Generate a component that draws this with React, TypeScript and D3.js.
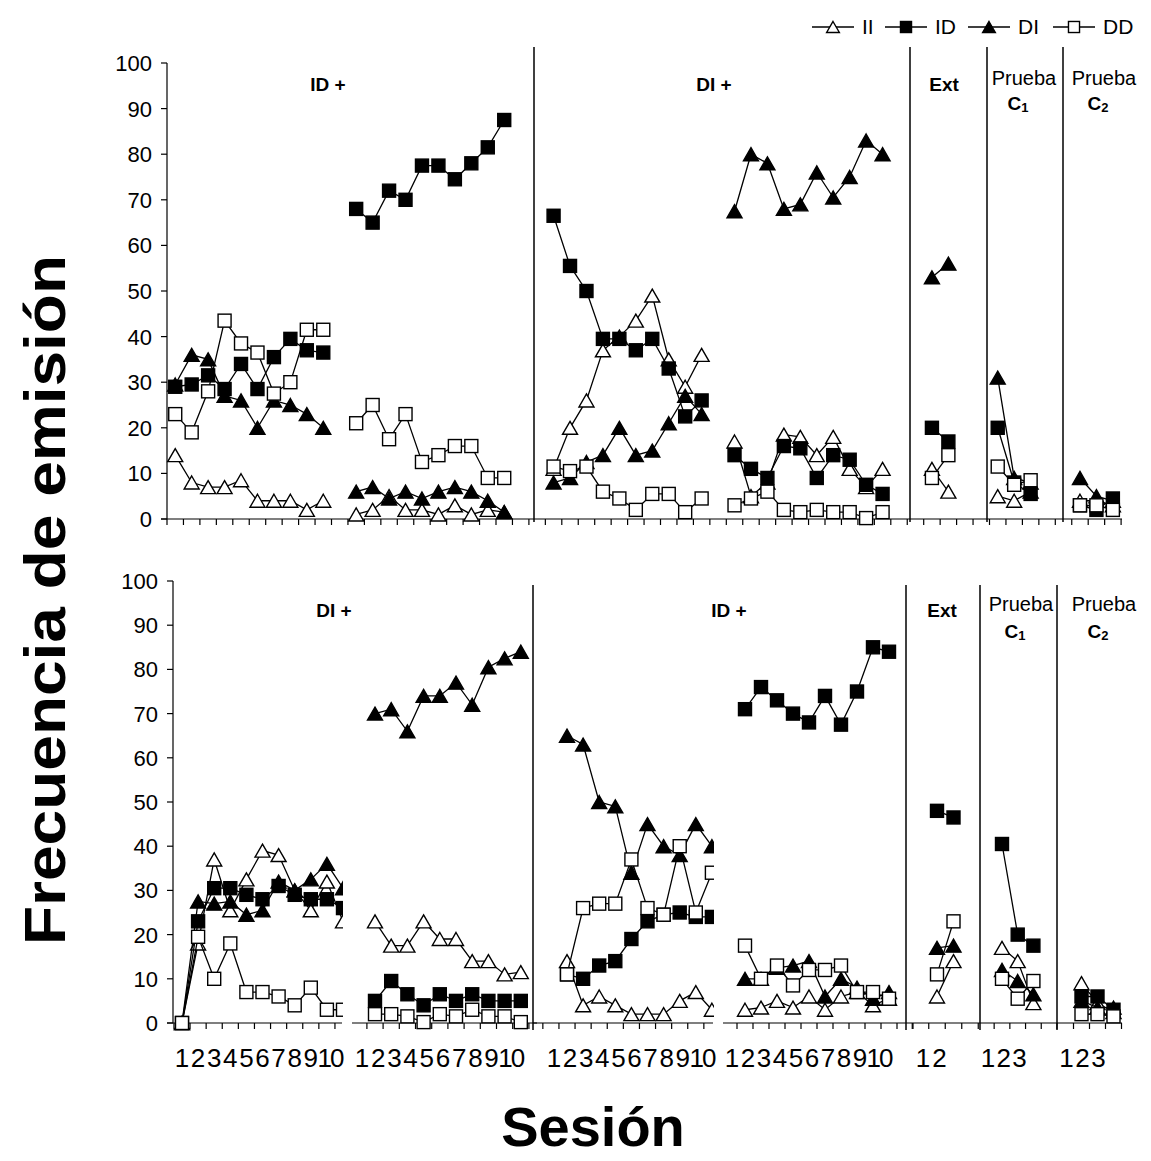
import React from 'react';
import * as d3 from 'd3';

// series order: II (open triangle), ID (filled square), DI (filled triangle), DD (open square)
const SERIES_NAMES = ['II', 'ID', 'DI', 'DD'];

// sessions per phase: two halves of the first condition, two halves of the second, Ext, Prueba C1, Prueba C2
const TOP_PHASE_SIZES = [10, 10, 10, 10, 2, 3, 3];
const BOTTOM_PHASE_SIZES = [11, 10, 10, 10, 2, 3, 3];
const SESSION_LABEL_COUNTS = [10, 10, 10, 10, 2, 3, 3];
const Y_TICKS = d3.range(0, 101, 10);

const TOP_TITLES = ['ID +', 'DI +'];
const BOTTOM_TITLES = ['DI +', 'ID +'];

const TOP_II = [14, 8, 7, 7, 8.5, 4, 4, 4, 2, 4, 1, 2, 5, 2, 2, 1, 3, 1, 2, 1.5,
  11, 20, 26, 37, 40, 43.5, 49, 35, 29, 36, 17, 5, 8, 18.5, 18, 14, 18, 11, 7, 11,
  11, 6, 5, 4, 6, 4, 4, 3];
const TOP_ID = [29, 29.5, 31.5, 28.5, 34, 28.5, 35.5, 39.5, 37, 36.5, 68, 65, 72, 70, 77.5, 77.5, 74.5, 78, 81.5, 87.5,
  66.5, 55.5, 50, 39.5, 39.5, 37, 39.5, 33, 22.5, 26, 14, 11, 9, 16, 15.5, 9, 14, 13, 7.5, 5.5,
  20, 17, 20, 8, 5.5, 3, 2, 4.5];
const TOP_DI = [29.5, 36, 35, 27, 26, 20, 26, 25, 23, 20, 6, 7, 4.5, 6, 4.5, 6, 7, 6, 4, 1.5,
  8, 9, 12.5, 14, 20, 14, 15, 21, 27, 23, 67.5, 80, 78, 68, 69, 76, 70.5, 75, 83, 80,
  53, 56, 31, 9, 8, 9, 5, 4];
const TOP_DD = [23, 19, 28, 43.5, 38.5, 36.5, 27.5, 30, 41.5, 41.5, 21, 25, 17.5, 23, 12.5, 14, 16, 16, 9, 9,
  11.5, 10.5, 11.5, 6, 4.5, 2, 5.5, 5.5, 1.5, 4.5, 3, 4.5, 6, 2, 1.5, 2, 1.5, 1.5, 0.2, 1.5,
  9, 14, 11.5, 7.5, 8.5, 3, 3, 2];

const BOTTOM_II = [0, 18, 37, 25.5, 32.5, 39, 38, 30, 25.5, 32, 23, 23, 17.5, 17.5, 23, 19, 19, 14, 14, 11, 11.5,
  14, 4, 6, 4, 2, 2, 2, 5, 7, 3, 3, 3.5, 5, 3.5, 6, 3, 6, 7, 4, 5.5,
  6, 14, 17, 14, 4.5, 9, 4.5, 2.5];
const BOTTOM_ID = [0, 23, 30.5, 30.5, 29, 28, 31, 29, 28, 28, 26, 5, 9.5, 6.5, 4, 6.5, 5, 6.5, 5, 5, 5,
  11, 10, 13, 14, 19, 23, 24.5, 25, 24, 24, 71, 76, 73, 70, 68, 74, 67.5, 75, 85, 84,
  48, 46.5, 40.5, 20, 17.5, 6, 6, 3];
const BOTTOM_DI = [0, 27.5, 27, 27.5, 24.5, 25.5, 32, 30, 32.5, 36, 30.5, 70, 71, 66, 74, 74, 77, 72, 80.5, 82.5, 84,
  65, 63, 50, 49, 34, 45, 40, 38, 45, 40, 10, 10, 12.5, 13, 14, 6, 10, 8, 5.5, 7,
  17, 17.5, 12, 9.5, 6.5, 5, 3.5, 3.5];
const BOTTOM_DD = [0, 19.5, 10, 18, 7, 7, 6, 4, 8, 3, 3, 2, 2, 1.5, 0.2, 2, 1.5, 3, 1.5, 1.5, 0.2,
  11, 26, 27, 27, 37, 26, 24.5, 40, 25, 34, 17.5, 10, 13, 8.5, 12, 12, 13, 7, 7, 5.5,
  11, 23, 10, 5.5, 9.5, 2, 2, 1.5];

const FONT = 'Liberation Sans, Arial, Helvetica, sans-serif';
const STYLES = [
  { shape: 'tri', fill: '#fff' },
  { shape: 'sq', fill: '#000' },
  { shape: 'tri', fill: '#000' },
  { shape: 'sq', fill: '#fff' },
];

type Seg = { x0: number; step: number; axis: [number, number]; tick: [number, number]; clip?: boolean; shift?: number };

// top panel: one continuous category axis
const TOP_STEP = 16.45;
const TOP_LEFT = 167;
const TOP_STARTS = [0, 11, 23, 34, 46, 50, 55];
const topSegs: Seg[] = TOP_STARTS.map((s) => ({
  x0: TOP_LEFT + TOP_STEP * (s + 0.5), step: TOP_STEP, axis: [0, 0], tick: [0, -1],
}));
const topAxis: Seg[] = [{ x0: TOP_LEFT + TOP_STEP * 0.5, step: TOP_STEP, axis: [161, 1122], tick: [0, 58] }];

// bottom panel: separate pieces, each with its own axis
const bottomSegs: Seg[] = [
  { x0: 182, step: 16.1, axis: [167, 342], tick: [0, 10], clip: true, shift: 0 },
  { x0: 375, step: 16.2, axis: [352, 537], tick: [0, 10], clip: true, shift: 13 },
  { x0: 567, step: 16.1, axis: [533, 713], tick: [-1, 9], clip: true, shift: 13 },
  { x0: 745, step: 16.0, axis: [723, 906], tick: [0, 11], clip: true, shift: 13 },
  { x0: 937, step: 16.5, axis: [906, 980], tick: [-1, 3], clip: true, shift: 14 },
  { x0: 1002, step: 15.7, axis: [980, 1057], tick: [0, 4], clip: true, shift: 14 },
  { x0: 1081.5, step: 16, axis: [1057, 1122], tick: [0, 3], clip: true, shift: 15 },
];

type PanelDef = {
  id: string; y0: number; y100: number; yAxisX: number; sizes: number[]; segs: Seg[]; axes: Seg[];
  series: number[][]; seps: number[]; sepY: [number, number]; titles: string[]; titleX: number[];
  titleY: number; extX: number; c1X: number; c2X: number; pruebaY: number; cY: number;
};

const panels: PanelDef[] = [
  {
    id: 'top', y0: 519, y100: 63, yAxisX: 167, sizes: TOP_PHASE_SIZES, segs: topSegs, axes: topAxis,
    series: [TOP_II, TOP_ID, TOP_DI, TOP_DD], seps: [534, 910, 987, 1063], sepY: [47, 522],
    titles: TOP_TITLES, titleX: [328, 714], titleY: 91, extX: 944, c1X: 1024, c2X: 1104, pruebaY: 85, cY: 110,
  },
  {
    id: 'bottom', y0: 1023, y100: 581, yAxisX: 173, sizes: BOTTOM_PHASE_SIZES, segs: bottomSegs, axes: bottomSegs,
    series: [BOTTOM_II, BOTTOM_ID, BOTTOM_DI, BOTTOM_DD], seps: [533, 906, 980, 1057], sepY: [585, 1030],
    titles: BOTTOM_TITLES, titleX: [334, 729], titleY: 617, extX: 942, c1X: 1021, c2X: 1104, pruebaY: 611, cY: 638,
  },
];

function triPath(x: number, y: number, w = 15, h = 13) {
  return `M${x},${y - h / 2}L${x + w / 2},${y + h / 2}L${x - w / 2},${y + h / 2}Z`;
}

function Marker({ x, y, s, small }: { x: number; y: number; s: number; small?: boolean }) {
  const st = STYLES[s];
  const k = small ? 0.85 : 1;
  if (st.shape === 'tri') {
    return <path d={triPath(x, y, 15 * k, 13 * k)} fill={st.fill} stroke="#000" strokeWidth={1.4} />;
  }
  const a = 13 * k;
  return <rect x={x - a / 2} y={y - a / 2} width={a} height={a} fill={st.fill} stroke="#000" strokeWidth={1.4} />;
}

function Panel({ p }: { p: PanelDef }) {
  const y = d3.scaleLinear().domain([0, 100]).range([p.y0, p.y100]);
  const offsets = p.sizes.map((_, i) => d3.sum(p.sizes.slice(0, i)));
  const line = d3.line<[number, number]>().x((d) => d[0]).y((d) => d[1]);

  return (
    <g>
      <defs>
        {p.segs.map((sg, i) => sg.clip ? (
          <clipPath id={`${p.id}-clip-${i}`} key={i}>
            <rect x={sg.axis[0]} y={0} width={sg.axis[1] - sg.axis[0] + 1} height={1161} />
          </clipPath>
        ) : null)}
      </defs>
      {/* y axis */}
      <line x1={p.yAxisX} x2={p.yAxisX} y1={y(100)} y2={y(0)} stroke="#000" strokeWidth={1.2} />
      {Y_TICKS.map((t) => (
        <g key={t}>
          <line x1={p.yAxisX - 6} x2={p.yAxisX} y1={y(t)} y2={y(t)} stroke="#000" strokeWidth={1.2} />
          <text x={p.yAxisX - 15} y={y(t) + 8} textAnchor="end" fontSize={22} fontFamily={FONT}>{t}</text>
        </g>
      ))}
      {/* x axis pieces */}
      {p.axes.map((sg, i) => (
        <g key={i}>
          <line x1={sg.axis[0]} x2={sg.axis[1]} y1={y(0)} y2={y(0)} stroke="#000" strokeWidth={1.2} />
          {d3.range(sg.tick[0], sg.tick[1] + 1).map((k) => {
            const tx = sg.x0 + sg.step * (k - 0.5);
            return <line key={k} x1={tx} x2={tx} y1={y(0)} y2={y(0) + 6} stroke="#000" strokeWidth={1.2} />;
          })}
        </g>
      ))}
      {/* phase separators */}
      {p.seps.map((sx) => (
        <line key={sx} x1={sx} x2={sx} y1={p.sepY[0]} y2={p.sepY[1]} stroke="#000" strokeWidth={1.5} />
      ))}
      {/* series */}
      {p.series.map((vals, s) => (
        <g key={s}>
          {p.segs.map((sg, i) => {
            const pts = vals.slice(offsets[i], offsets[i] + p.sizes[i]);
            const xs = d3.scaleLinear().domain([0, 1]).range([sg.x0, sg.x0 + sg.step]);
            const coords = pts.map((v, k) => [xs(k), y(v)] as [number, number]);
            return (
              <g key={i} clipPath={sg.clip ? `url(#${p.id}-clip-${i})` : undefined}>
                <path d={line(coords) || ''} fill="none" stroke="#000" strokeWidth={1.3} />
                {coords.map((c, k) => <Marker key={k} x={c[0]} y={c[1]} s={s} />)}
              </g>
            );
          })}
        </g>
      ))}
      {/* phase titles */}
      {p.titles.map((t, i) => (
        <text key={t} x={p.titleX[i]} y={p.titleY} textAnchor="middle" fontSize={19} fontWeight="bold" fontFamily={FONT}>{t}</text>
      ))}
      <text x={p.extX} y={p.titleY} textAnchor="middle" fontSize={19} fontWeight="bold" fontFamily={FONT}>Ext</text>
      {[p.c1X, p.c2X].map((cx, i) => (
        <g key={i}>
          <text x={cx} y={p.pruebaY} textAnchor="middle" fontSize={20} fontFamily={FONT}>Prueba</text>
          <text x={cx - 6} y={p.cY} textAnchor="middle" fontSize={19} fontWeight="bold" fontFamily={FONT}>
            C<tspan fontSize={13} dy={2}>{i + 1}</tspan>
          </text>
        </g>
      ))}
    </g>
  );
}

export default function App() {
  const bottom = panels[1];
  const yb = d3.scaleLinear().domain([0, 100]).range([bottom.y0, bottom.y100]);
  const legendX = [812, 885, 968, 1053];
  return (
    <svg width={1151} height={1161} style={{ position: 'absolute', left: 0, top: 0, background: '#fff' }}>
      <rect width={1151} height={1161} fill="#fff" />
      {panels.map((p) => <Panel key={p.id} p={p} />)}
      {/* session labels under the bottom panel */}
      {bottomSegs.map((sg, i) => d3.range(SESSION_LABEL_COUNTS[i]).map((k) => (
        <text key={`${i}-${k}`} x={sg.x0 + sg.step * k - (sg.shift || 0) + (k === 9 ? 3 : 0)} y={yb(0) + 44}
          textAnchor="middle" fontSize={26} fontFamily={FONT} letterSpacing={k === 9 ? -2 : 0}>{k + 1}</text>
      )))}
      {/* legend */}
      {SERIES_NAMES.map((n, i) => (
        <g key={n}>
          <line x1={legendX[i]} x2={legendX[i] + 42} y1={27} y2={27} stroke="#000" strokeWidth={1.3} />
          <Marker x={legendX[i] + 21} y={27} s={i} small />
          <text x={legendX[i] + 50} y={34} fontSize={21} fontFamily={FONT}>{n}</text>
        </g>
      ))}
      {/* axis titles */}
      <text transform="translate(65,600) rotate(-90)" textAnchor="middle" fontSize={58} fontWeight="bold"
        fontFamily={FONT} textLength={690} lengthAdjust="spacingAndGlyphs">Frecuencia de emisión</text>
      <text x={593} y={1146} textAnchor="middle" fontSize={56} fontWeight="bold" fontFamily={FONT}>Sesión</text>
    </svg>
  );
}
